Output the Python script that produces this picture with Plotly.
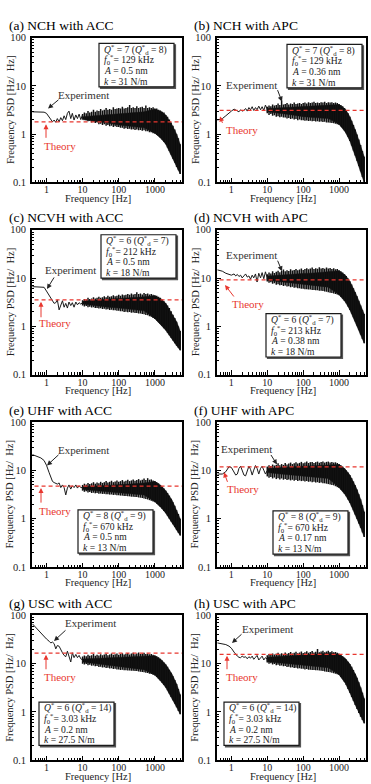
import plotly.graph_objects as go

W, H = 371, 784

PANEL_TITLES = ["(a) NCH with ACC", "(b) NCH with APC", "(c) NCVH with ACC", "(d) NCVH with APC",
                "(e) UHF with ACC", "(f) UHF with APC", "(g) USC with ACC", "(h) USC with APC"]

# low-frequency part of the measured spectra (Hz)
LF_F = [0.41, 0.56, 0.70, 0.86, 1.0, 1.19, 1.32, 1.47, 1.63, 1.81, 2.0, 2.24, 2.49,
        2.77, 3.08, 3.42, 3.8, 4.2, 4.7, 5.2, 5.8, 6.5, 7.2, 8.0, 8.9, 9.9]
LF_A = [2.9, 2.9, 2.9, 2.85, 2.7, 2.3, 2.0, 1.8, 1.96, 1.76, 2.1, 1.8, 2.2, 1.9, 2.4, 2.0,
        2.7, 3.0, 2.1, 2.7, 1.96, 2.5, 2.1, 2.6, 2.0, 2.5]
LF_B = [1.96, 2.1, 2.4, 2.8, 3.0, 3.3, 3.2, 3.0, 2.9, 3.2, 3.0, 3.1, 3.4, 3.0, 3.55, 3.2,
        3.7, 3.1, 3.55, 3.2, 3.8, 3.2, 3.7, 3.1, 4.0, 3.3]
LF_C = [6.65, 6.65, 6.65, 6.45, 5.4, 4.3, 3.7, 3.2, 3.0, 3.1, 3.55, 2.2, 2.7, 3.4, 2.5, 3.0,
        2.4, 3.2, 2.7, 3.1, 2.5, 3.2, 2.8, 3.1, 2.9, 3.1]
LF_D = [14.8, 13.9, 12.6, 12.2, 11.5, 12.2, 11.1, 11.9, 10.8, 11.5, 10.1, 11.1, 12.2, 10.5,
        11.1, 9.5, 11.5, 10.1, 12.2, 8.3, 12.6, 10.1, 13.0, 9.7, 13.5, 10.3]
LF_E = [21.2, 19.6, 18.1, 16.0, 12.8, 8.9, 7.1, 5.9, 5.6, 5.35, 5.2, 5.5, 4.4, 5.0, 4.4, 3.1,
        4.3, 5.0, 4.1, 4.8, 4.4, 5.0, 4.3, 4.8, 4.4, 4.4]
LF_FF = [8.4, 8.4, 9.4, 11.9, 11.5, 9.4, 8.0, 8.4, 11.0, 12.2, 10.1, 8.0, 7.7, 10.1, 12.2,
         10.5, 8.0, 10.1, 12.6, 11.0, 8.4, 11.0, 12.2, 10.1, 8.4, 9.8]
LF_G = [66.5, 51.8, 43.0, 35.5, 32.4, 29.0, 26.8, 27.9, 25.9, 20.2, 23.7, 22.9, 19.1, 16.8,
        14.8, 13.9, 18.1, 14.3, 10.8, 16.8, 13.3, 15.5, 13.3, 14.8, 12.6, 12.0]
LF_H = [26.8, 26.0, 24.8, 23.0, 20.9, 17.3, 15.5, 14.3, 13.5, 13.3, 14.3, 13.5, 13.9, 12.6,
        13.9, 13.0, 14.3, 12.3, 13.5, 14.8, 11.9, 13.5, 14.3, 11.9, 13.3, 12.5]

# dense (noisy) part: spike tips (upper / lower) read at these frequencies
F_BAND = [10, 11.2, 12.6, 14.1, 15.8, 17.8, 20, 22.4, 25.1, 28.2, 31.6, 35.5, 39.8, 44.7,
          50.1, 56.2, 63.1, 70.8, 79.4, 89.1, 100, 112, 126, 141, 158, 178, 200, 224, 251,
          282, 316, 355, 398, 447, 501, 562, 631, 708, 794, 891, 1000, 1122, 1259, 1413,
          1585, 1778, 1995, 2239, 2512, 2818, 3162, 3548, 3981, 4467, 5012]

UP_A = [2.6, 2.8, 2.7, 3.0, 2.8, 2.9, 3.2, 2.9, 3.1, 3.0, 3.3, 3.1, 3.2, 3.5, 3.2, 3.3, 3.2,
        3.6, 3.3, 3.4, 3.5, 3.4, 3.7, 3.4, 3.5, 3.6, 4.0, 3.5, 3.6, 3.5, 3.8, 3.5, 3.6, 3.7,
        3.5, 3.9, 3.5, 3.6, 3.5, 3.6, 3.4, 3.4, 3.2, 3.1, 2.9, 2.8, 2.5, 2.3, 2.0, 1.75, 1.5,
        1.25, 1.0, 0.82, 0.62]
LO_A = [2.1, 2.0, 1.95, 1.85, 1.9, 1.75, 1.8, 1.7, 1.75, 1.6, 1.65, 1.55, 1.6, 1.5, 1.55,
        1.45, 1.5, 1.4, 1.45, 1.4, 1.4, 1.35, 1.35, 1.3, 1.32, 1.28, 1.3, 1.25, 1.27, 1.22,
        1.25, 1.2, 1.22, 1.18, 1.2, 1.15, 1.15, 1.1, 1.1, 1.05, 1.02, 0.97, 0.92, 0.85, 0.78,
        0.7, 0.62, 0.53, 0.45, 0.38, 0.31, 0.26, 0.21, 0.18, 0.15]
UP_B = [3.7, 3.9, 3.8, 4.1, 3.9, 4.0, 4.3, 4.0, 5.0, 4.1, 4.2, 4.4, 4.1, 4.3, 4.2, 4.5, 4.2,
        4.3, 4.4, 4.2, 4.4, 4.5, 4.3, 4.6, 4.4, 4.5, 4.7, 4.4, 4.5, 4.4, 4.6, 4.5, 4.7, 4.4,
        4.6, 4.5, 4.6, 4.4, 4.5, 4.4, 4.2, 4.0, 3.8, 3.5, 3.1, 2.7, 2.3, 1.9, 1.55, 1.25, 0.98,
        0.78, 0.6, 0.45, 0.34]
LO_B = [2.7, 2.5, 2.6, 2.4, 2.45, 2.3, 2.35, 2.25, 2.3, 2.2, 2.2, 2.1, 2.15, 2.05, 2.1, 2.0,
        2.05, 1.95, 2.0, 1.95, 1.95, 1.9, 1.92, 1.88, 1.9, 1.85, 1.87, 1.83, 1.85, 1.8, 1.82,
        1.78, 1.8, 1.75, 1.75, 1.72, 1.7, 1.68, 1.65, 1.6, 1.55, 1.45, 1.35, 1.2, 1.05, 0.88,
        0.72, 0.58, 0.46, 0.36, 0.28, 0.22, 0.17, 0.13, 0.1]
UP_C = [3.5, 3.7, 3.6, 3.9, 3.7, 3.8, 4.0, 3.8, 3.9, 4.1, 3.9, 4.0, 4.2, 4.0, 4.3, 4.1, 4.2,
        4.4, 4.2, 4.3, 4.5, 4.3, 4.6, 4.4, 4.5, 4.7, 4.5, 4.8, 4.6, 4.7, 5.1, 4.7, 4.8, 4.6,
        4.9, 4.7, 4.8, 4.6, 4.7, 4.5, 4.4, 4.3, 4.1, 3.9, 3.6, 3.3, 3.0, 2.7, 2.4, 2.05, 1.75,
        1.5, 1.25, 1.0, 0.8]
LO_C = [2.7, 2.6, 2.65, 2.5, 2.55, 2.45, 2.5, 2.4, 2.42, 2.35, 2.38, 2.3, 2.32, 2.25, 2.27,
        2.2, 2.22, 2.15, 2.17, 2.1, 2.1, 2.05, 2.07, 2.0, 2.02, 1.97, 1.98, 1.93, 1.95, 1.9,
        1.9, 1.85, 1.85, 1.8, 1.78, 1.72, 1.7, 1.62, 1.58, 1.5, 1.42, 1.32, 1.22, 1.12, 1.02,
        0.92, 0.83, 0.74, 0.66, 0.58, 0.51, 0.45, 0.4, 0.36, 0.32]
UP_D = [12.0, 13.0, 12.5, 13.8, 12.8, 13.5, 14.2, 13.2, 14.0, 15.0, 13.8, 14.5, 14.0, 15.2,
        14.3, 14.8, 15.5, 14.5, 15.0, 15.8, 14.8, 15.5, 16.0, 15.2, 15.8, 16.5, 15.5, 16.0,
        15.6, 16.8, 15.8, 16.2, 15.6, 16.5, 15.8, 16.2, 15.5, 16.0, 15.2, 15.5, 14.5, 13.8,
        13.0, 12.0, 11.0, 9.8, 8.6, 7.4, 6.2, 5.1, 4.2, 3.4, 2.7, 2.2, 1.8]
LO_D = [8.5, 8.0, 8.2, 7.6, 7.8, 7.3, 7.5, 7.1, 7.2, 6.9, 7.0, 6.7, 6.8, 6.5, 6.6, 6.3, 6.4,
        6.2, 6.2, 6.0, 6.0, 5.9, 5.9, 5.8, 5.8, 5.7, 5.7, 5.6, 5.6, 5.5, 5.5, 5.4, 5.3, 5.2,
        5.1, 5.0, 4.9, 4.8, 4.7, 4.6, 4.4, 4.1, 3.8, 3.4, 3.0, 2.6, 2.2, 1.85, 1.55, 1.28,
        1.05, 0.85, 0.68, 0.55, 0.45]
UP_E = [5.0, 5.3, 5.1, 5.5, 5.2, 5.4, 5.7, 5.3, 5.6, 5.4, 5.8, 5.5, 5.7, 6.0, 5.6, 5.8, 6.1,
        5.7, 5.9, 6.2, 5.8, 6.0, 6.3, 5.9, 6.1, 6.4, 6.0, 6.2, 6.5, 6.1, 6.3, 6.6, 6.2, 6.4,
        6.8, 6.3, 6.9, 6.4, 6.5, 6.2, 6.0, 5.7, 5.4, 5.0, 4.6, 4.2, 3.8, 3.4, 3.0, 2.6, 2.2,
        1.85, 1.5, 1.25, 1.0]
LO_E = [3.8, 3.6, 3.7, 3.5, 3.55, 3.4, 3.45, 3.35, 3.4, 3.3, 3.32, 3.25, 3.27, 3.2, 3.22,
        3.15, 3.17, 3.1, 3.12, 3.05, 3.05, 3.0, 3.0, 2.95, 2.95, 2.9, 2.9, 2.85, 2.85, 2.8,
        2.8, 2.75, 2.72, 2.68, 2.62, 2.56, 2.5, 2.42, 2.35, 2.28, 2.2, 2.05, 1.9, 1.75, 1.6,
        1.45, 1.3, 1.15, 1.0, 0.88, 0.77, 0.67, 0.58, 0.51, 0.45]
UP_F = [12.0, 12.8, 12.3, 13.2, 12.6, 13.0, 14.0, 12.8, 13.5, 13.0, 14.2, 13.2, 13.8, 14.5,
        13.5, 14.0, 14.8, 13.8, 14.3, 15.0, 14.0, 14.5, 15.2, 14.2, 14.8, 15.0, 14.3, 14.8,
        15.2, 14.4, 14.9, 15.3, 14.5, 15.0, 15.2, 14.6, 15.0, 14.5, 14.7, 14.2, 13.5, 12.8,
        12.0, 11.0, 10.0, 9.0, 8.0, 6.9, 5.9, 4.9, 4.0, 3.2, 2.5, 1.9, 1.4]
LO_F = [7.5, 7.0, 7.3, 6.8, 7.1, 6.6, 6.9, 6.5, 6.8, 6.4, 6.6, 6.3, 6.5, 6.2, 6.4, 6.1, 6.3,
        6.0, 6.2, 6.0, 6.1, 5.9, 6.0, 5.8, 5.9, 5.7, 5.8, 5.6, 5.7, 5.5, 5.6, 5.4, 5.4, 5.3,
        5.2, 5.1, 5.0, 4.9, 4.7, 4.5, 4.3, 4.0, 3.7, 3.3, 2.9, 2.5, 2.15, 1.8, 1.5, 1.22, 1.0,
        0.8, 0.65, 0.52, 0.42]
UP_G = [14.0, 14.8, 14.3, 15.2, 14.5, 15.0, 15.8, 14.6, 15.3, 14.8, 15.6, 14.9, 15.4, 16.0,
        15.0, 15.5, 16.2, 15.2, 15.7, 16.3, 15.3, 15.8, 16.5, 15.4, 16.0, 16.6, 15.5, 16.2,
        16.8, 15.7, 16.2, 16.9, 15.8, 16.3, 16.8, 15.8, 16.2, 15.6, 15.9, 15.2, 14.8, 14.2,
        13.5, 12.6, 11.6, 10.6, 9.6, 8.6, 7.5, 6.5, 5.5, 4.6, 3.8, 3.0, 2.3]
LO_G = [10.0, 9.6, 9.8, 9.3, 9.5, 9.0, 9.2, 8.8, 8.9, 8.5, 8.6, 8.3, 8.4, 8.1, 8.2, 7.9, 8.0,
        7.7, 7.8, 7.6, 7.6, 7.4, 7.5, 7.3, 7.3, 7.2, 7.2, 7.1, 7.1, 7.0, 7.0, 6.9, 6.8, 6.7,
        6.6, 6.5, 6.4, 6.2, 6.1, 5.9, 5.7, 5.3, 4.9, 4.5, 4.0, 3.6, 3.2, 2.8, 2.4, 2.05, 1.75,
        1.5, 1.25, 1.05, 0.9]
UP_H = [15.0, 15.8, 15.2, 16.2, 15.4, 16.0, 16.8, 15.6, 16.4, 15.9, 17.0, 16.0, 16.6, 17.4,
        16.2, 16.8, 17.6, 16.4, 17.0, 17.8, 16.6, 17.2, 18.0, 16.8, 17.4, 18.2, 17.0, 17.6,
        20.0, 17.2, 17.8, 18.4, 17.2, 17.8, 18.5, 17.4, 18.0, 17.2, 17.5, 16.8, 16.0, 15.2,
        14.3, 13.3, 12.2, 11.0, 9.8, 8.6, 7.4, 6.2, 5.1, 4.1, 3.2, 2.5, 1.9]
LO_H = [10.5, 10.0, 10.2, 9.6, 9.8, 9.3, 9.5, 9.0, 9.2, 8.8, 8.9, 8.5, 8.6, 8.3, 8.4, 8.1,
        8.2, 7.9, 8.0, 7.8, 7.8, 7.6, 7.7, 7.5, 7.5, 7.4, 7.4, 7.3, 7.3, 7.2, 7.1, 7.0, 6.9,
        6.8, 6.7, 6.6, 6.5, 6.3, 6.2, 6.0, 5.8, 5.3, 4.8, 4.2, 3.6, 3.0, 2.5, 2.05, 1.7, 1.4,
        1.15, 0.95, 0.8, 0.68, 0.58]

# solid dark core of the noisy part (upper / lower edge)
F_CORE = [10, 20, 50, 100, 200, 500, 1000, 1500, 2000, 3000, 4000, 5012]
CU_A = [2.3, 2.4, 2.5, 2.6, 2.7, 2.9, 3.3, 2.95, 2.5, 1.55, 1.0, 0.62]
CL_A = [2.0, 1.85, 1.7, 1.55, 1.45, 1.35, 1.05, 0.8, 0.62, 0.33, 0.21, 0.15]
CU_B = [3.4, 3.5, 3.6, 3.7, 3.8, 3.9, 4.1, 3.3, 2.3, 1.1, 0.6, 0.34]
CL_B = [2.9, 2.7, 2.5, 2.3, 2.2, 2.1, 1.6, 1.1, 0.72, 0.31, 0.17, 0.1]
CU_C = [3.3, 3.5, 3.7, 3.8, 3.9, 4.1, 4.3, 3.7, 3.0, 1.85, 1.25, 0.8]
CL_C = [2.9, 2.7, 2.5, 2.4, 2.3, 2.1, 1.45, 1.05, 0.83, 0.54, 0.4, 0.32]
CU_D = [11.0, 11.5, 12.0, 12.5, 12.8, 13.5, 14.2, 11.5, 8.6, 4.6, 2.7, 1.8]
CL_D = [9.0, 8.5, 7.8, 7.3, 7.0, 6.5, 4.5, 3.2, 2.2, 1.15, 0.68, 0.45]
CU_E = [4.6, 4.7, 4.9, 5.0, 5.2, 5.5, 5.9, 4.8, 3.8, 2.4, 1.5, 1.0]
CL_E = [4.0, 3.8, 3.6, 3.5, 3.3, 3.1, 2.25, 1.68, 1.3, 0.82, 0.58, 0.45]
CU_F = [11.0, 11.5, 12.0, 12.3, 12.5, 13.0, 13.3, 10.5, 8.0, 4.4, 2.5, 1.4]
CL_F = [9.0, 8.5, 8.0, 7.5, 7.2, 6.8, 4.4, 3.1, 2.15, 1.1, 0.65, 0.42]
CU_G = [12.5, 12.8, 13.2, 13.5, 13.8, 14.5, 14.6, 12.1, 9.6, 6.0, 3.8, 2.3]
CL_G = [10.8, 10.0, 9.3, 8.7, 8.2, 7.5, 5.8, 4.2, 3.2, 1.9, 1.25, 0.9]
CU_H = [13.5, 14.0, 14.5, 15.0, 15.5, 16.5, 15.8, 12.7, 9.8, 5.6, 3.2, 1.9]
CL_H = [11.0, 10.5, 9.8, 9.2, 8.8, 8.2, 5.9, 3.9, 2.5, 1.27, 0.8, 0.58]

THEORY = [1.8, 3.1, 3.55, 9.2, 4.7, 11.8, 16.5, 15.5]

P_Q = ["7", "7", "6", "6", "8", "8", "6", "6"]
P_QD = ["8", "8", "7", "7", "9", "9", "14", "14"]
P_F0 = ["129 kHz", "129 kHz", "212 kHz", "213 kHz", "670 kHz", "670 kHz", "3.03 kHz", "3.03 kHz"]
P_A = ["0.5 nm", "0.36 nm", "0.5 nm", "0.38 nm", "0.5 nm", "0.17 nm", "0.2 nm", "0.2 nm"]
P_K = ["31 N/m", "31 N/m", "18 N/m", "18 N/m", "13 N/m", "13 N/m", "27.5 N/m", "27.5 N/m"]

X_TICKS = [1, 10, 100, 1000]
X_TICK_TEXT = ["1", "10", "100", "1000"]
Y_TICKS = [0.1, 1, 10, 100]
Y_TICK_TEXT = ["0.1", "1", "10", "100"]

LFS = [LF_A, LF_B, LF_C, LF_D, LF_E, LF_FF, LF_G, LF_H]
UPS = [UP_A, UP_B, UP_C, UP_D, UP_E, UP_F, UP_G, UP_H]
LOS = [LO_A, LO_B, LO_C, LO_D, LO_E, LO_F, LO_G, LO_H]
CUS = [CU_A, CU_B, CU_C, CU_D, CU_E, CU_F, CU_G, CU_H]
CLS = [CL_A, CL_B, CL_C, CL_D, CL_E, CL_F, CL_G, CL_H]

# ---------------- layout geometry (pixels) ----------------
COL_L = [32, 217]
COL_R = [182, 366]
ROW_T = [33, 228, 423, 619]
PH = 147
BOX_POS = [(99, 39), (287, 40), (101, 233), (266, 313), (78, 512), (273, 513), (39, 707), (224, 707)]
BOX_W, BOX_H = 75, 44
EXP_TXT = [(83, 91), (252, 81), (70, 269), (252, 254), (83, 451), (247, 450), (90, 627), (267, 633)]
EXP_ARR = [((60, 95), (48, 105)), ((277, 85), (282, 98)), ((55, 275), (47, 288)),
           ((277, 258), (282, 270)), ((60, 455), (47, 467)), ((270, 455), (277, 466)),
           ((67, 633), (54, 645)), ((243, 637), (232, 647))]
TH_TXT = [(60, 143), (242, 127), (55, 323), (248, 303), (55, 513), (243, 491), (60, 682), (242, 682)]
TH_ARR = [((46, 136), (46, 121)), ((223, 121), (220, 113)), ((41, 318), (41, 301)),
          ((235, 297), (225, 284)), ((41, 506), (41, 490)), ((228, 485), (224, 474)),
          ((46, 675), (46, 659)), ((227, 675), (227, 660))]

SERIF = "Liberation Serif"
RED = "#e8372f"
INK = "#1a1a1a"


def px(x, y):
    return x / W, 1 - y / H


minor_x = [m * 10 ** e for e in range(-1, 4) for m in range(2, 10)]
minor_y = [m * 10 ** e for e in range(-1, 2) for m in range(2, 10)]

fig = go.Figure()
layout = dict(width=W, height=H, margin=dict(l=0, r=0, t=0, b=0), showlegend=False,
              plot_bgcolor="white", paper_bgcolor="white",
              font=dict(family=SERIF, color="black", size=10))
annotations = []
shapes = []

for i in range(8):
    r, c = i // 2, i % 2
    sfx = "" if i == 0 else str(i + 1)
    xa, ya = "x" + sfx, "y" + sfx
    x0, x1 = COL_L[c], COL_R[c]
    top = ROW_T[r]
    bot = top + PH
    layout["xaxis" + sfx] = dict(
        type="log", range=[-0.4, 3.75], domain=[x0 / W, x1 / W], anchor=ya,
        tickmode="array", tickvals=X_TICKS, ticktext=X_TICK_TEXT,
        ticks="inside", ticklen=4.5, tickwidth=1, tickcolor="black",
        minor=dict(tickmode="array", tickvals=minor_x, ticks="inside", ticklen=2.5,
                   tickwidth=1, tickcolor="black", showgrid=False),
        showline=True, linewidth=1.6, linecolor="black", mirror=True,
        showgrid=False, zeroline=False, tickfont=dict(family=SERIF, size=10, color="#222"),
        ticklabelstandoff=-3)
    layout["yaxis" + sfx] = dict(
        type="log", range=[-1, 2], domain=[1 - bot / H, 1 - top / H], anchor=xa,
        tickmode="array", tickvals=Y_TICKS, ticktext=Y_TICK_TEXT,
        ticks="inside", ticklen=4.5, tickwidth=1, tickcolor="black",
        minor=dict(tickmode="array", tickvals=minor_y, ticks="inside", ticklen=2,
                   tickwidth=1, tickcolor="black", showgrid=False),
        showline=True, linewidth=1.6, linecolor="black", mirror=True,
        showgrid=False, zeroline=False, tickfont=dict(family=SERIF, size=10.5, color="#222"),
        ticklabelstandoff=2)

    # solid core of the noisy spectrum
    fig.add_trace(go.Scatter(x=F_CORE + F_CORE[::-1], y=CUS[i] + CLS[i][::-1], xaxis=xa, yaxis=ya,
                             mode="lines", fill="toself", fillcolor="#0a0a0a",
                             line=dict(color="#0a0a0a", width=0.5), hoverinfo="skip"))
    # spikes of the noisy spectrum
    hx, hy = [], []
    for f, u, lo in zip(F_BAND, UPS[i], LOS[i]):
        hx += [f, f, None]
        hy += [lo, u, None]
    fig.add_trace(go.Scatter(x=hx, y=hy, xaxis=xa, yaxis=ya, mode="lines",
                             line=dict(color="#111111", width=1.5), hoverinfo="skip"))
    # low-frequency line
    fig.add_trace(go.Scatter(x=LF_F + [F_BAND[0]], y=LFS[i] + [CLS[i][0]],
                             xaxis=xa, yaxis=ya, mode="lines",
                             line=dict(color=INK, width=1), hoverinfo="skip"))
    # theory
    fig.add_trace(go.Scatter(x=[0.3, 8000], y=[THEORY[i], THEORY[i]], xaxis=xa, yaxis=ya,
                             mode="lines", line=dict(color=RED, width=1.3, dash="4px,3px"),
                             hoverinfo="skip"))

    # panel title
    tx, ty = px(7 + c * 185, top - 12)
    annotations.append(dict(text=PANEL_TITLES[i], x=tx, y=ty, xref="paper", yref="paper",
                            xanchor="left", yanchor="middle", showarrow=False,
                            font=dict(family=SERIF, size=13.5, color="black")))
    # y title
    yx, yy = px(x0 - 22, (top + bot) / 2)
    annotations.append(dict(text="Frequency PSD [Hz/  Hz]", x=yx, y=yy, xref="paper", yref="paper",
                            xanchor="center", yanchor="middle", textangle=-90, showarrow=False,
                            font=dict(family=SERIF, size=10.5, color="#222")))
    # x title
    xx, xy = px(x0 + 66, bot + 16)
    annotations.append(dict(text="Frequency [Hz]", x=xx, y=xy, xref="paper", yref="paper",
                            xanchor="center", yanchor="middle", showarrow=False,
                            font=dict(family=SERIF, size=10.5, color="#222")))
    # parameter box (shadow + frame + four lines)
    bx0, by0 = BOX_POS[i]
    sx0, sy0 = px(bx0 + 1.5, by0 + 1.5)
    sx1, sy1 = px(bx0 + BOX_W + 1.5, by0 + BOX_H + 1.5)
    shapes.append(dict(type="rect", xref="paper", yref="paper", x0=sx0, y0=sy1, x1=sx1, y1=sy0,
                       line=dict(color="#555", width=1.2), fillcolor="#555"))
    fx0, fy0 = px(bx0, by0)
    fx1, fy1 = px(bx0 + BOX_W, by0 + BOX_H)
    shapes.append(dict(type="rect", xref="paper", yref="paper", x0=fx0, y0=fy1, x1=fx1, y1=fy0,
                       line=dict(color=INK, width=1.2), fillcolor="white"))
    lines = ["<i>Q</i><sup>*</sup> = %s (<i>Q</i><sup>*</sup><sub>d</sub> = %s)" % (P_Q[i], P_QD[i]),
             "<i>f</i><sub>0</sub><sup>*</sup>= %s" % P_F0[i],
             "<i>A</i> = %s" % P_A[i],
             "<i>k</i> = %s" % P_K[i]]
    for j, t in enumerate(lines):
        lx, ly = px(bx0 + 3, by0 + 6 + 10.7 * j)
        annotations.append(dict(text=t, x=lx, y=ly, xref="paper", yref="paper",
                                xanchor="left", yanchor="middle", align="left", showarrow=False,
                                font=dict(family=SERIF, size=9.6, color=INK)))
    # Experiment label + arrow
    ex, ey = px(*EXP_TXT[i])
    annotations.append(dict(text="Experiment", x=ex, y=ey, xref="paper", yref="paper",
                            xanchor="center", yanchor="middle", showarrow=False,
                            font=dict(family=SERIF, size=11, color="#333")))
    (tx0, ty0), (ahx, ahy) = EXP_ARR[i]
    hxp, hyp = px(ahx, ahy)
    annotations.append(dict(text="", x=hxp, y=hyp, xref="paper", yref="paper", showarrow=True,
                            ax=tx0 - ahx, ay=ty0 - ahy, axref="pixel", ayref="pixel",
                            arrowhead=2, arrowsize=1, arrowwidth=1, arrowcolor="#222"))
    # Theory label + arrow
    thx, thy = px(*TH_TXT[i])
    annotations.append(dict(text="Theory", x=thx, y=thy, xref="paper", yref="paper",
                            xanchor="center", yanchor="middle", showarrow=False,
                            font=dict(family=SERIF, size=11, color=RED)))
    (tx0, ty0), (ahx, ahy) = TH_ARR[i]
    hxp, hyp = px(ahx, ahy)
    annotations.append(dict(text="", x=hxp, y=hyp, xref="paper", yref="paper", showarrow=True,
                            ax=tx0 - ahx, ay=ty0 - ahy, axref="pixel", ayref="pixel",
                            arrowhead=2, arrowsize=1, arrowwidth=1, arrowcolor=RED))

layout["annotations"] = annotations
layout["shapes"] = shapes
fig.update_layout(**layout)
fig.write_html("out.html")
